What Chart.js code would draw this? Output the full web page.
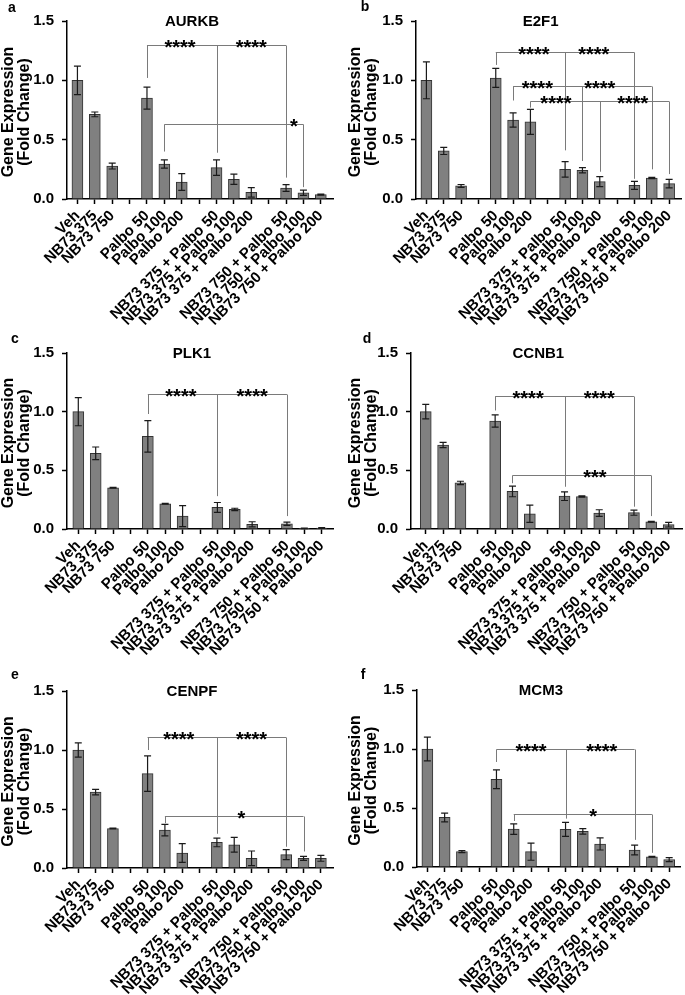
<!DOCTYPE html>
<html>
<head>
<meta charset="utf-8">
<title>Gene expression panels</title>
<script src="https://cdn.jsdelivr.net/npm/chart.js@4.4.1/dist/chart.umd.min.js"></script>
<style>
  body { margin: 0; background: #fff; }
  #wrap { position: relative; width: 685px; height: 995px; overflow: hidden; }
  #wrap canvas { position: absolute; }
</style>
</head>
<body>
<div id="wrap">
  <canvas id="panelA"></canvas>
  <canvas id="panelB"></canvas>
  <canvas id="panelC"></canvas>
  <canvas id="panelD"></canvas>
  <canvas id="panelE"></canvas>
  <canvas id="panelF"></canvas>
</div>
<script>
// x categories, empty strings are the gaps between treatment groups
const catLabels = [
  'Veh', 'NB73 375', 'NB73 750', '',
  'Palbo 50', 'Palbo 100', 'Palbo 200', '',
  'NB73 375 + Palbo 50', 'NB73 375 + Palbo 100', 'NB73 375 + Palbo 200', '',
  'NB73 750 + Palbo 50', 'NB73 750 + Palbo 100', 'NB73 750 + Palbo 200'
];
// category index of each bar
const barPos = [0, 1, 2, 4, 5, 6, 8, 9, 10, 12, 13, 14];
const yTicks = [0, 0.5, 1.0, 1.5];

// mean fold change and error, one value per bar
const aurkbMean = [1.00, 0.713, 0.278, 0.85, 0.295, 0.143, 0.264, 0.166, 0.056, 0.093, 0.053, 0.037];
const aurkbErr  = [0.12, 0.02, 0.025, 0.093, 0.035, 0.07, 0.065, 0.043, 0.04, 0.028, 0.022, 0.005];

const e2f1Mean = [1.00, 0.405, 0.11, 1.02, 0.666, 0.65, 0.25, 0.242, 0.146, 0.115, 0.177, 0.13];
const e2f1Err  = [0.155, 0.03, 0.012, 0.08, 0.06, 0.105, 0.065, 0.022, 0.042, 0.034, 0.005, 0.036];

const plk1Mean = [1.00, 0.645, 0.351, 0.79, 0.215, 0.11, 0.184, 0.167, 0.04, 0.045, 0.006, 0.008];
const plk1Err  = [0.12, 0.054, 0.003, 0.134, 0.004, 0.09, 0.042, 0.01, 0.022, 0.014, 0.002, 0.003];

const ccnb1Mean = [1.00, 0.716, 0.393, 0.92, 0.32, 0.13, 0.28, 0.277, 0.136, 0.139, 0.062, 0.037];
const ccnb1Err  = [0.062, 0.022, 0.014, 0.052, 0.045, 0.074, 0.037, 0.006, 0.028, 0.022, 0.004, 0.02];

const cenpfMean = [1.00, 0.643, 0.335, 0.80, 0.321, 0.127, 0.217, 0.197, 0.082, 0.113, 0.082, 0.082];
const cenpfErr  = [0.06, 0.023, 0.003, 0.15, 0.048, 0.079, 0.037, 0.062, 0.062, 0.042, 0.017, 0.025];

const mcm3Mean = [1.00, 0.42, 0.13, 0.744, 0.321, 0.13, 0.319, 0.302, 0.195, 0.144, 0.087, 0.062];
const mcm3Err  = [0.10, 0.037, 0.008, 0.079, 0.045, 0.073, 0.059, 0.023, 0.051, 0.042, 0.003, 0.017];

// significance brackets: level, legs [category, lower end], star labels [category, text]
const aurkbSig = [
  { y: 1.30, legs: [[4, 1.02], [8, 0.39], [12, 0.18]], stars: [[5.9, '****'], [10, '****']] },
  { y: 0.63, legs: [[5, 0.40], [13, 0.10]], stars: [[12.45, '*']] }
];
const e2f1Sig = [
  { y: 1.24, legs: [[4, 1.13], [8, 0.41], [12, 0.17]], stars: [[6.2, '****'], [9.65, '****']] },
  { y: 0.95, legs: [[5, 0.83], [9, 0.32], [13, 0.25]], stars: [[6.4, '****'], [10.0, '****']] },
  { y: 0.826, legs: [[6, 0.77], [10, 0.23], [14, 0.21]], stars: [[7.47, '****'], [11.9, '****']] }
];
const plk1Sig = [
  { y: 1.15, legs: [[4, 0.98], [8, 0.28], [12, 0.11]], stars: [[5.9, '****'], [10, '****']] }
];
const ccnb1Sig = [
  { y: 1.13, legs: [[4, 1.01], [8, 0.36], [12, 0.19]], stars: [[5.9, '****'], [10, '****']] },
  { y: 0.46, legs: [[5, 0.39], [13, 0.11]], stars: [[9.75, '***']] }
];
const cenpfSig = [
  { y: 1.11, legs: [[4, 1.0], [8, 0.29], [12, 0.18]], stars: [[5.8, '****'], [10, '****']] },
  { y: 0.44, legs: [[5, 0.38], [13, 0.14]], stars: [[9.42, '*']] }
];
const mcm3Sig = [
  { y: 1.0, legs: [[4, 0.89], [8, 0.41], [12, 0.23]], stars: [[6, '****'], [10.1, '****']] },
  { y: 0.45, legs: [[5, 0.39], [13, 0.12]], stars: [[9.6, '*']] }
];

Chart.defaults.font.family = "'Liberation Sans', Arial, sans-serif";
Chart.defaults.color = '#000';

const FONT = "'Liberation Sans', Arial, sans-serif";

// one panel = one canvas; box gives where the plot area sits inside the canvas
function makePanel(id, gene, letter, mean, err, sig, box) {
  const canvas = document.getElementById(id);
  canvas.width = box.W;
  canvas.height = box.H;
  canvas.style.left = box.X + 'px';
  canvas.style.top = box.Y + 'px';

  const extras = {
    id: 'extras_' + id,
    afterDatasetsDraw(chart) {
      const { ctx, scales: { x, y } } = chart;
      const meta = chart.getDatasetMeta(0);

      // error bars
      ctx.save();
      ctx.strokeStyle = '#1a1a1a';
      ctx.lineWidth = 1.2;
      mean.forEach((m, i) => {
        const px = meta.data[i].x;
        const top = y.getPixelForValue(m + err[i]);
        const bot = y.getPixelForValue(Math.max(m - err[i], 0));
        ctx.beginPath();
        ctx.moveTo(px, top); ctx.lineTo(px, bot);
        ctx.moveTo(px - 3.5, top); ctx.lineTo(px + 3.5, top);
        ctx.moveTo(px - 3.5, bot); ctx.lineTo(px + 3.5, bot);
        ctx.stroke();
      });
      ctx.restore();

      // brackets and stars
      ctx.save();
      ctx.strokeStyle = '#7a7a7a';
      ctx.lineWidth = 1;
      sig.forEach(b => {
        const ly = Math.round(y.getPixelForValue(b.y)) + 0.5;
        const x0 = x.getPixelForValue(b.legs[0][0]);
        const x1 = x.getPixelForValue(b.legs[b.legs.length - 1][0]);
        ctx.beginPath();
        ctx.moveTo(x0, ly); ctx.lineTo(x1, ly);
        b.legs.forEach(l => {
          const lx = Math.round(x.getPixelForValue(l[0])) + 0.5;
          ctx.moveTo(lx, ly); ctx.lineTo(lx, y.getPixelForValue(l[1]));
        });
        ctx.stroke();
        ctx.fillStyle = '#000';
        ctx.font = 'bold 20px ' + FONT;
        ctx.textAlign = 'center';
        ctx.textBaseline = 'alphabetic';
        b.stars.forEach(s => {
          ctx.fillText(s[1], x.getPixelForValue(s[0]), ly + 8);
        });
      });
      ctx.restore();
    },
    afterDraw(chart) {
      const { ctx, chartArea } = chart;
      ctx.save();
      ctx.fillStyle = '#000';
      // panel letter
      ctx.font = 'bold 14px ' + FONT;
      ctx.textAlign = 'center';
      ctx.textBaseline = 'middle';
      ctx.fillText(letter, box.letter[0], box.letter[1]);
      // gene title
      ctx.font = 'bold 15px ' + FONT;
      ctx.fillText(gene, chartArea.left + 0.47 * (chartArea.right - chartArea.left), chartArea.top + 1);
      // y axis title, two lines
      ctx.font = 'bold 16px ' + FONT;
      const cy = (chartArea.top + chartArea.bottom) / 2 + 2;
      ['Gene Expression', '(Fold Change)'].forEach((t, k) => {
        ctx.save();
        ctx.translate(box.ytitle[k], cy);
        ctx.rotate(-Math.PI / 2);
        ctx.fillText(t, 0, 0);
        ctx.restore();
      });
      ctx.restore();
    }
  };

  return new Chart(canvas, {
    type: 'bar',
    data: {
      datasets: [{
        data: barPos.map((p, i) => ({ x: p, y: mean[i] })),
        backgroundColor: '#808080',
        borderColor: '#333333',
        borderWidth: 1,
        barThickness: 11
      }]
    },
    options: {
      responsive: false,
      animation: false,
      devicePixelRatio: 1,
      layout: { padding: { top: box.top, right: box.W - box.right, left: 0, bottom: 0 } },
      plugins: { legend: { display: false }, tooltip: { enabled: false } },
      scales: {
        x: {
          type: 'linear',
          min: box.xMin,
          max: box.xMax,
          offset: false,
          afterFit: s => { s.height = box.H - box.bottom; },
          afterBuildTicks: s => { s.ticks = catLabels.map((_, i) => ({ value: i })); },
          grid: { offset: false, drawOnChartArea: false, tickLength: 5, tickColor: '#000', tickWidth: 1.5 },
          border: { color: '#000', width: 1.5 },
          ticks: {
            autoSkip: false, minRotation: 45, maxRotation: 45, padding: 3,
            font: { size: 15, weight: 'bold' },
            callback: v => catLabels[v]
          }
        },
        y: {
          min: 0,
          max: 1.5,
          afterFit: s => { s.width = box.left; },
          afterBuildTicks: s => { s.ticks = yTicks.map(v => ({ value: v })); },
          grid: { drawOnChartArea: false, tickLength: 5, tickColor: '#000', tickWidth: 1.5 },
          border: { color: '#000', width: 1.5 },
          ticks: { padding: 8, font: { size: 15, weight: 'bold' }, callback: v => v.toFixed(1) }
        }
      }
    },
    plugins: [extras]
  });
}

makePanel('panelA', 'AURKB', 'a', aurkbMean, aurkbErr, aurkbSig,
  { X: 0, Y: 0, W: 340, H: 335, left: 67, top: 21, bottom: 199, right: 333, xMin: -0.6, xMax: 14.7, letter: [12, 8], ytitle: [9, 25] });
makePanel('panelB', 'E2F1', 'b', e2f1Mean, e2f1Err, e2f1Sig,
  { X: 340, Y: 0, W: 345, H: 335, left: 76, top: 21, bottom: 199, right: 342, xMin: -0.6, xMax: 14.7, letter: [25, 7], ytitle: [16, 32] });
makePanel('panelC', 'PLK1', 'c', plk1Mean, plk1Err, plk1Sig,
  { X: 0, Y: 320, W: 340, H: 345, left: 67, top: 33, bottom: 209, right: 333, xMin: -0.65, xMax: 14.65, letter: [15, 19], ytitle: [9, 25] });
makePanel('panelD', 'CCNB1', 'd', ccnb1Mean, ccnb1Err, ccnb1Sig,
  { X: 340, Y: 320, W: 345, H: 345, left: 71, top: 33, bottom: 209, right: 342, xMin: -0.85, xMax: 14.77, letter: [27, 19], ytitle: [16, 32] });
makePanel('panelE', 'CENPF', 'e', cenpfMean, cenpfErr, cenpfSig,
  { X: 0, Y: 650, W: 340, H: 345, left: 67, top: 41, bottom: 218, right: 333, xMin: -0.65, xMax: 14.7, letter: [15, 25], ytitle: [9, 25] });
makePanel('panelF', 'MCM3', 'f', mcm3Mean, mcm3Err, mcm3Sig,
  { X: 340, Y: 650, W: 345, H: 345, left: 77, top: 40, bottom: 217, right: 343, xMin: -0.6, xMax: 14.66, letter: [23, 25], ytitle: [16, 32] });
</script>
</body>
</html>
